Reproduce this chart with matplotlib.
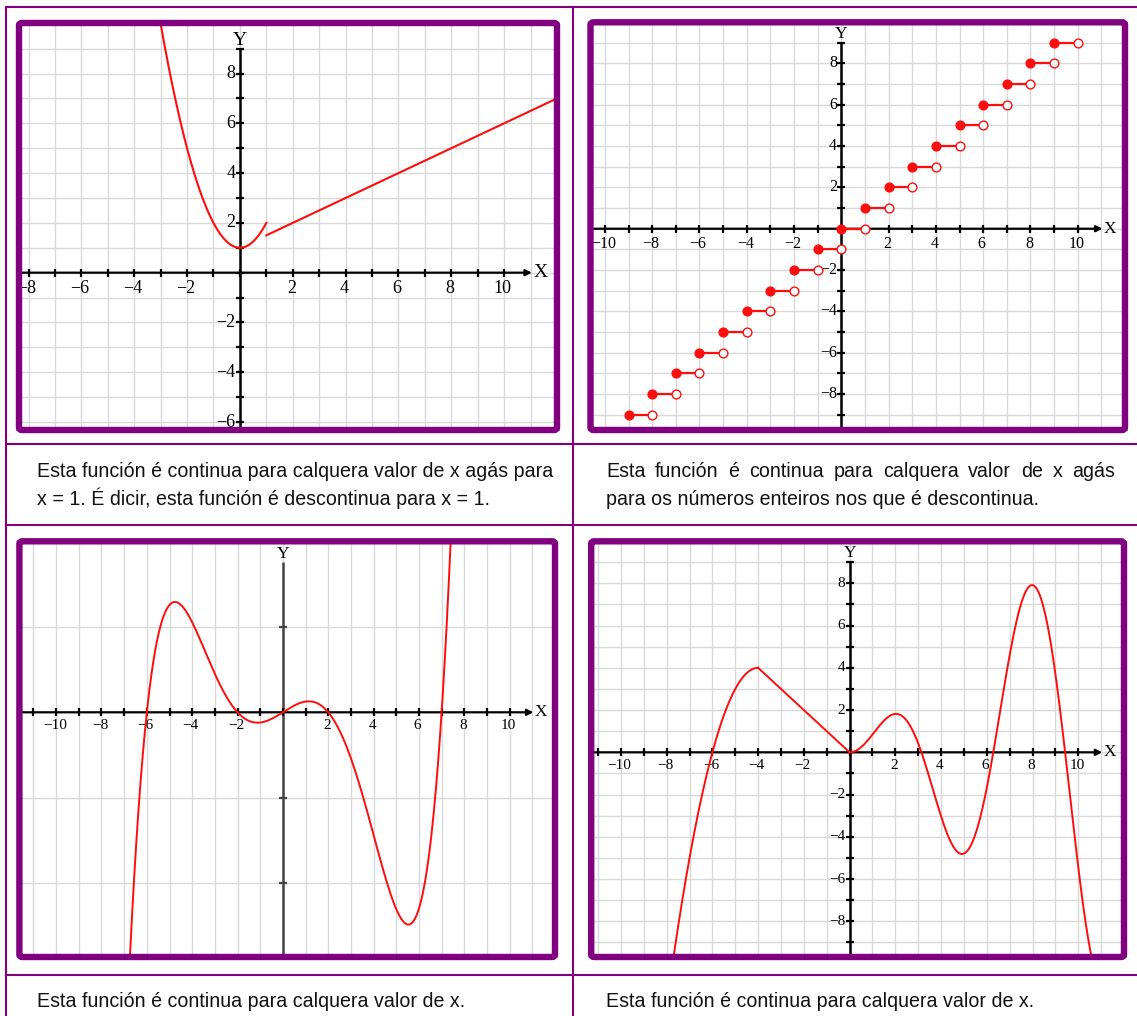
import numpy as np
import matplotlib
matplotlib.use('Agg')
import matplotlib.pyplot as plt
from matplotlib.lines import Line2D
from matplotlib.patches import FancyBboxPatch

W, H = 1137, 1016
PURPLE = '#800080'
RED = '#ff0d0d'
GRID = '#d9d9d9'
SERIF = 'Liberation Serif'
SANS = ['Liberation Sans Narrow', 'Liberation Sans']

# Gráfica 1: x² + 1 ata x = 1, logo a recta x/2 + 1
g1_corte = 1
g1_parabola = [1, 0, 1]
g1_recta = [0.5, 1]

# Gráfica 2: función parte enteira, un chanzo por cada enteiro
g2_chanzos = list(range(-9, 10))

# Gráfica 3: polinomio de grao 5 coas súas raíces
g3_raices = [-6, -2, 0, 2, 7]
g3_dominio = (-6.9, 7.42)

# Gráfica 4: parábola con vértice (-4, 4), recta ata a orixe e x·sen(x)
g4_vertice = (-4, 4)
g4_orixe = (0, 0)

textos = [
    ['Esta función é continua para calquera valor de x agás para',
     'x = 1. É dicir, esta función é descontinua para x = 1.'],
    ['Esta función é continua para calquera valor de x agás',
     'para os números enteiros nos que é descontinua.'],
    ['Esta función é continua para calquera valor de x.'],
    ['Esta función é continua para calquera valor de x.'],
]

fig = plt.figure(figsize=(W / 100, H / 100), dpi=100)


def rect_fig(l, t, r, b):
    return [l / W, 1 - b / H, (r - l) / W, (b - t) / H]


def etiqueta(v):
    return str(v).replace('-', '\u2212')


def panel(caixa, xlim, ylim, hgrid, xmarcas, ymarcas, xetiq, yetiq, ytop,
          fs=11, fs_eixo=12, cor_y='black'):
    ax = fig.add_axes(rect_fig(*caixa))
    ax.set_xlim(xlim)
    ax.set_ylim(ylim)
    for s in ax.spines.values():
        s.set_visible(False)
    ax.set_xticks(np.arange(np.ceil(xlim[0]), xlim[1] + 1))
    ax.set_yticks(hgrid)
    ax.grid(True, color=GRID, lw=1.0)
    ax.set_axisbelow(True)
    ax.tick_params(length=0, labelbottom=False, labelleft=False)

    # eixo X con frecha
    ax.annotate('', xy=(11.05, 0), xytext=(xlim[0], 0),
                arrowprops=dict(arrowstyle='-|>', color='black', lw=1.6,
                                mutation_scale=9, shrinkA=0, shrinkB=0),
                zorder=3)
    ax.annotate('X', (11.05, 0), xytext=(1, 0), textcoords='offset points',
                ha='left', va='center', fontsize=fs_eixo, family=SERIF,
                annotation_clip=False)
    # eixo Y
    ax.plot([0, 0], [ylim[0] - 1e4, ytop], color=cor_y, lw=1.8, zorder=3,
            solid_capstyle='butt')
    ax.annotate('Y', (0, ytop), xytext=(0, 0), textcoords='offset points',
                ha='center', va='bottom', fontsize=fs_eixo, family=SERIF)

    ax.plot(xmarcas, np.zeros(len(xmarcas)), ls='none', marker='|', ms=6,
            mew=1.6, color='black', zorder=3)
    ax.plot(np.zeros(len(ymarcas)), ymarcas, ls='none', marker='_', ms=6,
            mew=1.6, color=cor_y, zorder=3)

    for v in xetiq:
        ax.annotate(etiqueta(v), (v, 0), xytext=(-1, -5), textcoords='offset points',
                    ha='center', va='top', fontsize=fs, family=SERIF, clip_on=True)
    for v in yetiq:
        ax.annotate(etiqueta(v), (0, v), xytext=(-3, 0), textcoords='offset points',
                    ha='right', va='center', fontsize=fs, family=SERIF, clip_on=True)

    marco = FancyBboxPatch((0, 0), 1, 1, boxstyle='round,pad=0,rounding_size=0.006',
                           transform=ax.transAxes, fill=False, ec=PURPLE, lw=4.6,
                           clip_on=False, zorder=20)
    ax.add_patch(marco)
    return ax


# --- Gráfica 1 ---
ax1 = panel((19, 23, 557, 430), (-8.36, 11.72), (-6.32, 10.03),
            np.arange(-6, 11), np.arange(-8, 11), np.arange(-6, 10),
            [-8, -6, -4, -2, 2, 4, 6, 8, 10], [-6, -4, -2, 2, 4, 6, 8], 9.0,
            fs=13, fs_eixo=14)
x = np.linspace(-3.2, g1_corte, 300)
ax1.plot(x, np.polyval(g1_parabola, x), color=RED, lw=1.5, zorder=4)
x = np.linspace(g1_corte, 12, 50)
ax1.plot(x, np.polyval(g1_recta, x), color=RED, lw=1.5, zorder=4)

# --- Gráfica 2 ---
ax2 = panel((590.5, 22.3, 1125, 430), (-10.61, 11.72), (-9.74, 9.99),
            np.arange(-9, 10), np.arange(-10, 11), np.arange(-9, 10),
            [-10, -8, -6, -4, -2, 2, 4, 6, 8, 10], [-8, -6, -4, -2, 2, 4, 6, 8], 9.05,
            fs=11.5, fs_eixo=12.5)
n = np.array(g2_chanzos)
for k in g2_chanzos:
    ax2.plot([k, k + 1], [k, k], color=RED, lw=1.6, zorder=4)
ax2.plot(n, n, ls='none', marker='o', ms=6.3, color=RED, zorder=5)
ax2.plot(n + 1, n, ls='none', marker='o', ms=6.3, mfc='white', mec=RED, mew=1.0,
         zorder=5)

# --- Gráfica 3 ---
ax3 = panel((19.4, 541.3, 555, 957), (-11.62, 11.77), (-2872, 2007),
            [-2000, -1000, 1000], np.arange(-11, 11), [-2000, -1000, 1000],
            [-10, -8, -6, -4, -2, 2, 4, 6, 8, 10], [], 1768,
            fs=11, fs_eixo=12.5, cor_y='#444444')
x = np.linspace(*g3_dominio, 600)
ax3.plot(x, np.polyval(np.poly(g3_raices), x), color=RED, lw=1.4, zorder=4)

# --- Gráfica 4 ---
ax4 = panel((591.2, 541.3, 1124, 957), (-11.3, 11.7), (-9.69, 9.99),
            np.arange(-9, 10), np.arange(-11, 11), np.arange(-9, 10),
            [-10, -8, -6, -4, -2, 2, 4, 6, 8, 10], [-8, -6, -4, -2, 2, 4, 6, 8], 9.05,
            fs=11, fs_eixo=12.5)
vx, vy = g4_vertice
x = np.linspace(-8.2, vx, 200)
ax4.plot(x, vy - (x - vx) ** 2, color=RED, lw=1.4, zorder=4)
ax4.plot([vx, g4_orixe[0]], [vy, g4_orixe[1]], color=RED, lw=1.4, zorder=4)
x = np.linspace(g4_orixe[0], 11, 400)
ax4.plot(x, x * np.sin(x), color=RED, lw=1.4, zorder=4)

# --- táboa ---
def liña(x0, y0, x1, y1):
    fig.add_artist(Line2D([x0 / W, x1 / W], [1 - y0 / H, 1 - y1 / H],
                          color=PURPLE, lw=1.5))

liña(6, 7, 6, H)
liña(573, 7, 573, H)
for y in (7, 444, 525, 975):
    liña(6, y, W, y)

# --- textos ---
fs_txt = 14.1
ren = fig.canvas.get_renderer()


def texto(x, y, s):
    return fig.text(x / W, 1 - y / H, s, fontsize=fs_txt, family=SANS,
                    va='baseline', ha='left', color='#111111')


def xustificado(x0, x1, y, s):
    pals = [texto(x0, y, p) for p in s.split()]
    anchos = [p.get_window_extent(ren).width for p in pals]
    oco = (x1 - x0 - sum(anchos)) / (len(pals) - 1)
    xx = x0
    for p, a in zip(pals, anchos):
        p.set_x(xx / W)
        xx += a + oco


texto(37, 477, textos[0][0])
texto(37, 505, textos[0][1])
xustificado(606, 1115, 477, textos[1][0])
texto(606, 505, textos[1][1])
texto(37, 1007, textos[2][0])
texto(606, 1007, textos[3][0])

fig.savefig('out.png', dpi=100)
